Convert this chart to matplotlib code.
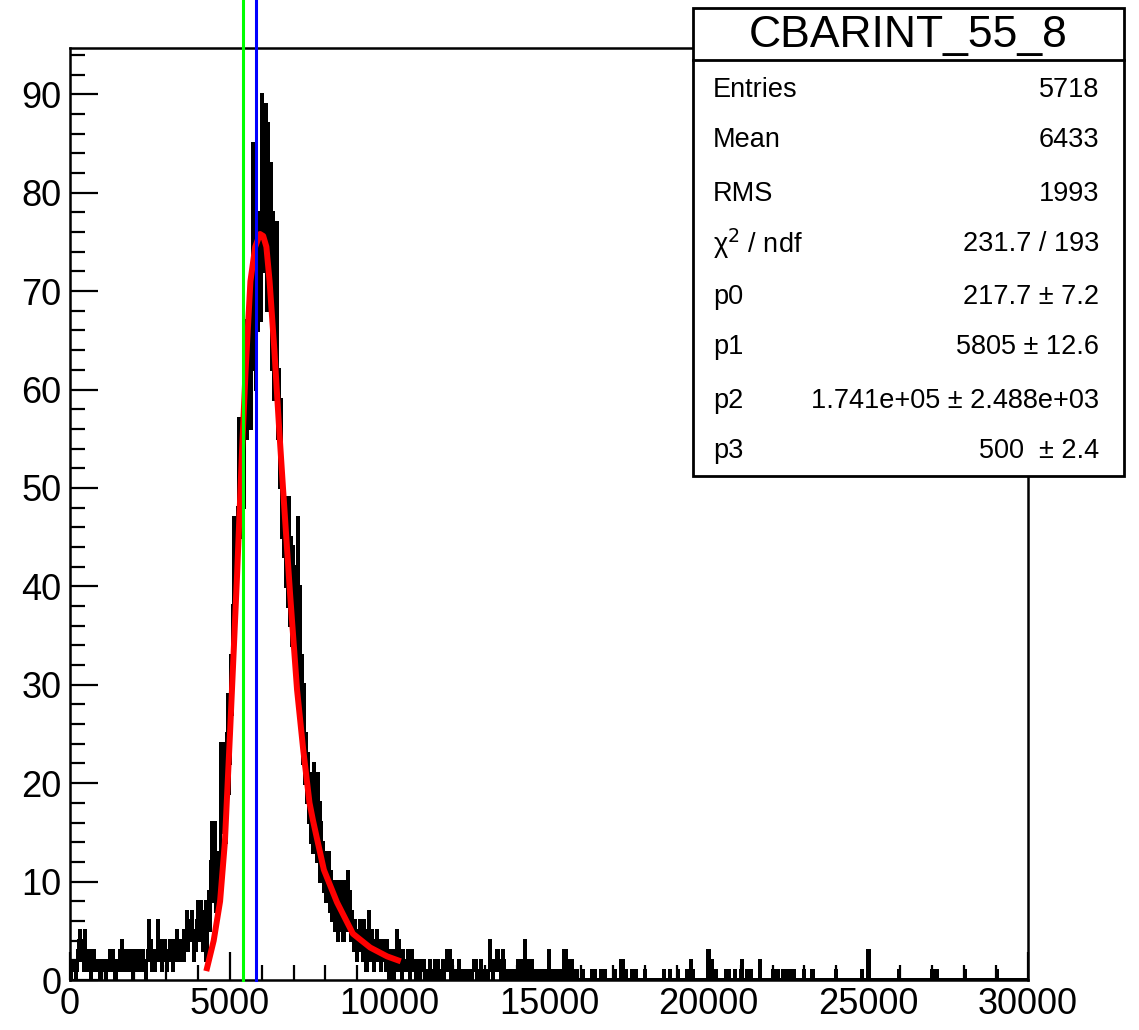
import numpy as np
import matplotlib.pyplot as plt
from matplotlib.patches import Rectangle
from matplotlib.ticker import MultipleLocator

plt.rcParams["font.family"] = ["Liberation Sans", "DejaVu Sans"]

# histogram: 1000 bins of width 30 from 0 to 30000
bin_width = 30
n_bins = 1000

# counts, bins 0..139 (0 - 4200)
counts_low = [
    1, 0, 2, 1, 2, 1, 0, 1,
    3, 4, 5, 2, 4, 3, 1, 5,
    2, 3, 1, 2, 3, 0, 2, 3,
    1, 3, 2, 1, 2, 1, 2, 0,
    1, 2, 1, 1, 2, 0, 2, 1,
    1, 3, 1, 2, 3, 1, 2, 0,
    1, 2, 1, 2, 3, 1, 4, 2,
    3, 1, 2, 3, 2, 1, 3, 2,
    2, 0, 3, 1, 2, 3, 2, 1,
    3, 2, 1, 2, 3, 1, 2, 0,
    2, 3, 6, 2, 4, 1, 3, 2,
    1, 2, 3, 6, 4, 2, 2, 4,
    1, 3, 2, 4, 3, 1, 2, 3,
    4, 2, 3, 1, 4, 2, 3, 5,
    2, 4, 3, 2, 4, 3, 5, 2,
    4, 3, 7, 3, 5, 6, 4, 7,
    4, 2, 5, 3, 6, 8, 4, 6,
    8, 5, 3, 7,
]

# counts, bins 140..349 (4200 - 10500)
counts_peak = [
    5, 2, 8, 3, 6, 9, 5, 12,
    16, 8, 14, 16, 7, 13, 9, 13,
    8, 24, 15, 22, 17, 24, 14, 25,
    29, 19, 29, 22, 33, 27, 38, 47,
    35, 47, 40, 48, 57, 45, 56, 50,
    57, 48, 60, 67, 55, 68, 58, 66,
    56, 62, 72, 85, 70, 80, 60, 78,
    66, 74, 78, 67, 90, 79, 88, 72,
    89, 68, 87, 76, 70, 83, 62, 78,
    59, 70, 60, 71, 77, 55, 62, 50,
    59, 45, 50, 43, 49, 40, 49, 38,
    49, 36, 45, 34, 44, 33, 42, 30,
    40, 47, 32, 30, 40, 26, 33, 22,
    30, 20, 25, 18, 23, 16, 21, 14,
    20, 13, 22, 15, 20, 12, 21, 12,
    18, 10, 16, 11, 14, 9, 13, 8,
    12, 10, 13, 7, 11, 6, 10, 8,
    5, 8, 10, 4, 9, 6, 10, 5,
    8, 4, 7, 10, 5, 8, 11, 5,
    9, 4, 7, 5, 3, 6, 4, 2,
    5, 3, 6, 4, 5, 2, 6, 3,
    4, 1, 5, 3, 7, 2, 4, 5,
    3, 1, 4, 2, 5, 3, 2, 4,
    1, 3, 4, 2, 3, 1, 4, 2,
    3, 0, 2, 3, 1, 2, 0, 3,
    1, 5, 2, 4, 1, 2, 0, 3, 1, 2,
]

# counts, bins 350..449 (10500 - 13500)
counts_tail = [
    2, 1, 3, 2, 0, 2, 3, 1, 2,
    1, 2, 0, 1, 2, 1, 0, 2,
    2, 1, 2, 0, 1, 1,
    0, 1, 2, 1, 0, 1, 1, 2, 0, 1, 0, 2, 1, 1, 0, 1, 2, 0, 1,
    1, 3, 2, 1, 3, 0, 2, 1,
    1, 0, 1, 1, 0, 1, 2, 1, 0, 1, 1,
    0, 1, 1, 0, 1, 0, 1, 1, 0, 1,
    2, 1, 2, 0, 1,
    1, 0, 1, 2, 1, 0, 1, 1,
    0, 1, 0, 1,
    4, 1, 2, 0,
    2, 2, 1, 3, 3, 2, 1, 0,
]

# isolated entries above 13500: position and count
spike_x = [13530, 13560, 13620, 13680, 13740, 13800, 13890, 13950, 14010, 14070,
           14130, 14220, 14280, 14340, 14400, 14460, 14520, 14580, 14640, 14700,
           14760, 14850, 14910, 15000, 15060, 15120, 15180, 15240, 15300, 15360,
           15450, 15510, 15570, 15630, 15720, 15780, 15870, 16050, 16320, 16440,
           16620, 16740, 17040, 17250, 17310, 17400, 17580, 17700, 18000, 18600,
           18780, 19020, 19320, 19380, 19440, 19500, 19980, 20100, 20220, 20520,
           20610, 20820, 21000, 21030, 21180, 21300, 21600, 21990, 22140, 22320,
           22440, 22530, 22650, 22980, 23220, 23250, 23990, 24800, 24990, 25970,
           26990, 27120, 28020, 29010]
spike_n = [3, 2, 1, 1, 1, 1, 1, 1, 2, 1,
           2, 4, 2, 1, 2, 2, 1, 1, 1, 1,
           1, 1, 1, 3, 1, 1, 1, 1, 1, 1,
           3, 3, 2, 1, 2, 1, 1, 1, 1, 1,
           1, 1, 1, 2, 2, 1, 1, 1, 1, 1,
           1, 1, 1, 1, 2, 1, 3, 2, 1, 1,
           1, 1, 1, 2, 1, 1, 2, 1, 1, 1,
           1, 1, 1, 1, 1, 1, 1, 1, 3, 1,
           1, 1, 1, 1]

# fit curve
fit_x = [4290, 4500, 4700, 4850, 5010, 5100, 5230, 5390, 5500, 5650,
         5800, 5950, 6050, 6150, 6250, 6400, 6550, 6670, 6890, 7110,
         7300, 7500, 7610, 7950, 8360, 8860, 9400, 9930, 10270]
fit_y = [1.2, 4.0, 8.0, 14.0, 25.0, 31.5, 41.0, 54.0, 62.0, 71.0,
         74.5, 75.8, 75.6, 74.5, 71.0, 64.0, 56.0, 50.0, 39.3, 29.5,
         23.5, 18.0, 16.2, 11.2, 7.9, 4.7, 3.3, 2.4, 2.0]

green_x = 5405
blue_x = 5810

stats_title = "CBARINT_55_8"
stats_labels = ["Entries", "Mean", "RMS", "χ$^{2}$ / ndf", "p0", "p1", "p2", "p3"]
stats_values = ["5718", "6433", "1993", "231.7 / 193", "217.7 ± 7.2",
                "5805 ± 12.6", "1.741e+05 ± 2.488e+03", "500  ± 2.4"]

counts = np.zeros(n_bins)
seq = np.concatenate([counts_low, counts_peak, counts_tail])
counts[:len(seq)] = seq
for x, n in zip(spike_x, spike_n):
    counts[int(x // bin_width)] = n
edges = np.arange(n_bins + 1) * bin_width

W, H = 1139, 1030
fig = plt.figure(figsize=(W / 100, H / 100), dpi=100)
ax = fig.add_axes([70 / W, 1 - 980 / H, 958 / W, 932 / H])

ax.stairs(counts, edges, color="black", linewidth=1.5, baseline=0,
          antialiased=False, zorder=2)
ax.plot(fit_x, fit_y, color="#ff0000", linewidth=4.3, zorder=3)
top = 980 / 932
ax.axvline(green_x, ymin=0, ymax=top, color="#00ff00", linewidth=2.2, clip_on=False, zorder=4)
ax.axvline(blue_x, ymin=0, ymax=top, color="#0000ff", linewidth=2.2, clip_on=False, zorder=4)

ax.set_xlim(0, 30000)
ax.set_ylim(0, 94.7)
ax.xaxis.set_major_locator(MultipleLocator(5000))
ax.xaxis.set_minor_locator(MultipleLocator(1000))
ax.yaxis.set_major_locator(MultipleLocator(10))
ax.yaxis.set_minor_locator(MultipleLocator(2))
ax.tick_params(which="both", direction="in", top=False, right=False, width=1.6, labelsize=26)
ax.tick_params(which="major", length=20)
ax.tick_params(which="minor", length=10.5)
ax.tick_params(axis="x", pad=5)
ax.tick_params(axis="y", pad=6)
for s in ax.spines.values():
    s.set_linewidth(1.8)

# stats box
bx0, bx1, by0, by1 = 693, 1124, 8, 476
fig.patches.append(Rectangle((bx0 / W, 1 - by1 / H), (bx1 - bx0) / W, (by1 - by0) / H,
                             transform=fig.transFigure, facecolor="white",
                             edgecolor="black", linewidth=2.0, zorder=5))
fig.add_artist(plt.Line2D([bx0 / W, bx1 / W], [1 - 60 / H, 1 - 60 / H],
                          transform=fig.transFigure, color="black", linewidth=2.0, zorder=6))
fig.text((bx0 + bx1) / 2 / W, 1 - 35 / H, stats_title, fontsize=32,
         ha="center", va="center", zorder=7)
row_y = [90, 140, 194, 244, 297, 347, 401, 451]
for y, lab, val in zip(row_y, stats_labels, stats_values):
    fig.text(713 / W, 1 - y / H, lab, fontsize=19.5, ha="left", va="center", zorder=7)
    fig.text(1099 / W, 1 - y / H, val, fontsize=19.5, ha="right", va="center", zorder=7)

fig.savefig("out.png", dpi=100)
